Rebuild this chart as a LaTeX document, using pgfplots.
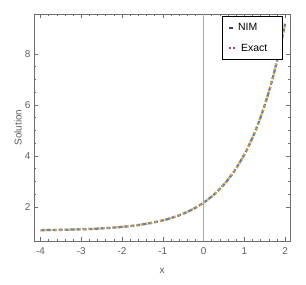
\documentclass[border=0pt]{standalone}
\usepackage{fontspec}
\setmainfont{Liberation Sans}
\usepackage{pgfplots}
\pgfplotsset{compat=1.18}
\definecolor{nimblue}{RGB}{94,129,181}
\definecolor{exorange}{RGB}{232,160,40}
\definecolor{txtgray}{RGB}{95,95,95}
\definecolor{framegray}{RGB}{110,110,110}
\definecolor{legnavy}{RGB}{60,60,150}
\definecolor{legpurple}{RGB}{160,70,110}
\begin{document}
\begin{tikzpicture}
\useasboundingbox (0,0) rectangle (306bp,285bp);
\begin{axis}[
 at={(34bp,44bp)}, anchor=south west,
 width=256bp, height=227bp, scale only axis,
 xmin=-4.16, xmax=2.12, ymin=0.655, ymax=9.57,
 xtick={-4,-3,-2,-1,0,1,2}, ytick={2,4,6,8},
 minor x tick num=4, minor y tick num=3,
 tick align=inside, major tick length=4bp, minor tick length=2bp,
 axis line style={framegray, line width=0.6bp},
 every tick/.style={framegray, line width=0.5bp},
 tick label style={font=\fontsize{10}{12}\selectfont, text=txtgray},
 xticklabel style={yshift=-3bp},
 /pgf/number format/assume math mode=true,
 xlabel={x}, ylabel={Solution},
 label style={font=\fontsize{10}{12}\selectfont, text=txtgray},
 xlabel style={at={(axis description cs:0.5,0)}, anchor=base, yshift=-33bp},
 ylabel style={at={(axis description cs:-0.0625,0.5)}, anchor=center},
 legend style={at={(rel axis cs:0.973,0.991)}, anchor=north east, draw=black,
   line width=0.7bp, font=\fontsize{10.5}{12}\selectfont, text=black,
   inner xsep=5.5bp, inner ysep=5bp, row sep=8bp},
 legend cell align=left,
]
\addplot[gray!70, line width=0.8bp, forget plot] coordinates {(0,0.655) (0,9.57)};
\addplot[nimblue, line width=2.3bp, dash pattern=on 4bp off 2bp, smooth,
  legend image code/.code={\draw[legnavy, line width=2bp] (0bp,0bp) -- (6bp,0bp);}]
 coordinates {
(-4,1.080) (-3.75,1.086) (-3.5,1.093) (-3.25,1.103) (-3,1.115) (-2.75,1.130)
(-2.5,1.150) (-2.25,1.176) (-2,1.209) (-1.75,1.251) (-1.5,1.305) (-1.25,1.375)
(-1,1.465) (-0.75,1.580) (-0.5,1.727) (-0.25,1.917) (0,2.160) (0.25,2.472)
(0.5,2.874) (0.75,3.389) (1,4.050) (1.125,4.448) (1.25,4.899) (1.375,5.411)
(1.5,5.990) (1.625,6.646) (1.75,7.390) (1.875,8.233) (2,9.188)
};
\addlegendentry{NIM\hspace*{18bp}}
\addplot[exorange, line width=2.3bp, dash pattern=on 1.6bp off 3.2bp, smooth,
  legend image code/.code={\draw[legpurple, line width=2bp, dash pattern=on 1.5bp off 2.5bp] (0bp,0bp) -- (6bp,0bp);}]
 coordinates {
(-4,1.080) (-3.75,1.086) (-3.5,1.093) (-3.25,1.103) (-3,1.115) (-2.75,1.130)
(-2.5,1.150) (-2.25,1.176) (-2,1.209) (-1.75,1.251) (-1.5,1.305) (-1.25,1.375)
(-1,1.465) (-0.75,1.580) (-0.5,1.727) (-0.25,1.917) (0,2.160) (0.25,2.472)
(0.5,2.874) (0.75,3.389) (1,4.050) (1.125,4.448) (1.25,4.899) (1.375,5.411)
(1.5,5.990) (1.625,6.646) (1.75,7.390) (1.875,8.233) (2,9.188)
};
\addlegendentry{\hspace*{3bp}Exact}
\end{axis}
\end{tikzpicture}
\end{document}
